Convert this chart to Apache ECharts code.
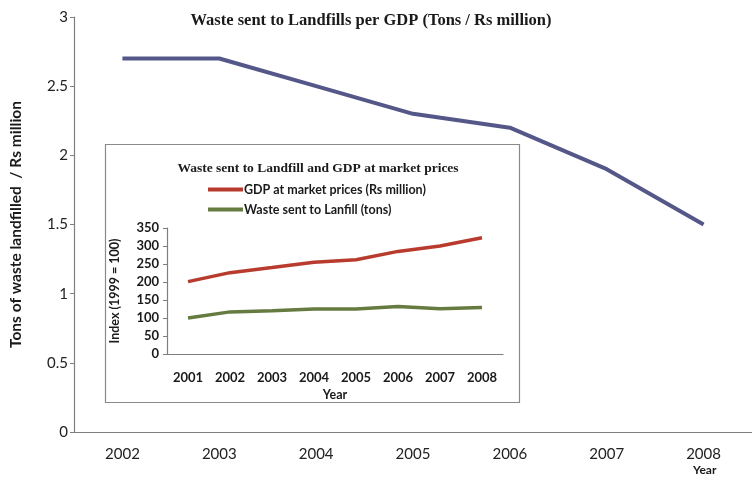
<!DOCTYPE html>
<html><head><meta charset="utf-8">
<script src="https://cdn.jsdelivr.net/npm/echarts@6/dist/echarts.min.js"></script>
<style>html,body{margin:0;padding:0;background:#fff}#c{width:752px;height:481px}</style>
</head><body><div id="c"></div>
<script>
const mainYears = ['2002','2003','2004','2005','2006','2007','2008'];
const wastePerGdp = [2.7, 2.7, 2.5, 2.3, 2.2, 1.9, 1.5];
const insetYears = ['2001','2002','2003','2004','2005','2006','2007','2008'];
const gdpIndex = [201, 226, 240, 255, 262, 285, 300, 323];
const wasteIndex = [100, 117, 120, 125, 125, 132, 126, 129];
const gdpName = 'GDP at market prices (Rs million)';
const wasteName = 'Waste sent to Lanfill (tons)';

const chart = echarts.init(document.getElementById('c'), null, {renderer:'canvas'});
const axisGray = '#7f7f7f';
const sans = 'Lato, "Open Sans", sans-serif';
const serif = '"Liberation Serif", "DejaVu Serif", serif';
chart.setOption({
  animation:false,
  backgroundColor:'#fff',
  title:[
    {text:'Waste sent to Landfills per GDP (Tons / Rs million)', left:366, top:7, textAlign:'center',
     textStyle:{fontFamily:serif, fontWeight:'bold', fontSize:16.5, color:'#1a1a1a'}},
    {text:'Waste sent to Landfill and GDP at market prices', left:313, top:157, textAlign:'center', z:6,
     textStyle:{fontFamily:serif, fontWeight:'bold', fontSize:13.5, color:'#1a1a1a'}}
  ],
  legend:{data:[{name:gdpName, icon:'rect'}, {name:wasteName, icon:'rect'}], orient:'vertical', left:203, top:178,
    itemWidth:35, itemHeight:4, itemGap:7, z:6,
    textStyle:{fontFamily:sans, fontWeight:'bold', fontSize:12.5, color:'#1a1a1a', padding:[0,0,0,-4]}},
  graphic:[
    {type:'rect', z:3, shape:{x:105.5, y:144.5, width:414, height:258}, style:{fill:'#fff', stroke:'#8a8a8a', lineWidth:1.2}},
    {type:'text', z:6, left:693, top:464, style:{text:'Year', font:'bold 12px '+sans, fill:'#1a1a1a'}}
  ],
  grid:[
    {left:73, top:17, width:686, bottom:49},
    {left:167, top:228, width:336, bottom:127, z:4}
  ],
  xAxis:[
    {type:'category', gridIndex:0, data:mainYears, boundaryGap:true,
     axisLine:{lineStyle:{color:axisGray, width:1.2}}, axisTick:{length:5, lineStyle:{color:axisGray}},
     axisLabel:{margin:15, fontFamily:sans, fontSize:15, color:'#222'}},
    {type:'category', gridIndex:1, data:insetYears, boundaryGap:true, z:5,
     name:'Year', nameLocation:'middle', nameGap:34,
     nameTextStyle:{fontFamily:sans, fontWeight:'bold', fontSize:12.5, color:'#1a1a1a'},
     axisLine:{lineStyle:{color:axisGray, width:1.2}}, axisTick:{length:4, lineStyle:{color:axisGray}},
     axisLabel:{margin:17, fontFamily:sans, fontWeight:'bold', fontSize:13, color:'#1a1a1a'}}
  ],
  yAxis:[
    {type:'value', gridIndex:0, min:0, max:3, interval:0.5,
     name:'Tons of waste landfilled  / Rs million', nameLocation:'middle', nameGap:50,
     nameTextStyle:{fontFamily:sans, fontWeight:'bold', fontSize:15.5, color:'#1a1a1a'},
     axisLine:{show:true, lineStyle:{color:axisGray, width:1.2}}, axisTick:{show:true, length:4, lineStyle:{color:axisGray}},
     splitLine:{show:false}, axisLabel:{margin:6, fontFamily:sans, fontSize:15, color:'#222'}},
    {type:'value', gridIndex:1, min:0, max:350, interval:50, z:5,
     name:'Index (1999 = 100)', nameLocation:'middle', nameGap:46,
     nameTextStyle:{fontFamily:sans, fontWeight:'bold', fontSize:12.5, color:'#1a1a1a'},
     axisLine:{show:true, lineStyle:{color:axisGray, width:1.2}}, axisTick:{show:true, length:4, lineStyle:{color:axisGray}},
     splitLine:{show:false}, axisLabel:{margin:8, fontFamily:sans, fontWeight:'bold', fontSize:13, color:'#1a1a1a'}}
  ],
  series:[
    {type:'line', name:'Waste per GDP', xAxisIndex:0, yAxisIndex:0, data:wastePerGdp, symbol:'none',
     lineStyle:{color:'#555789', width:4}, itemStyle:{color:'#555789'}, z:2},
    {type:'line', name:gdpName, xAxisIndex:1, yAxisIndex:1, data:gdpIndex, symbol:'none',
     lineStyle:{color:'#b83b2d', width:3.5}, itemStyle:{color:'#b83b2d'}, z:6},
    {type:'line', name:wasteName, xAxisIndex:1, yAxisIndex:1, data:wasteIndex, symbol:'none',
     lineStyle:{color:'#667b40', width:3.5}, itemStyle:{color:'#667b40'}, z:6}
  ]
});
</script></body></html>
